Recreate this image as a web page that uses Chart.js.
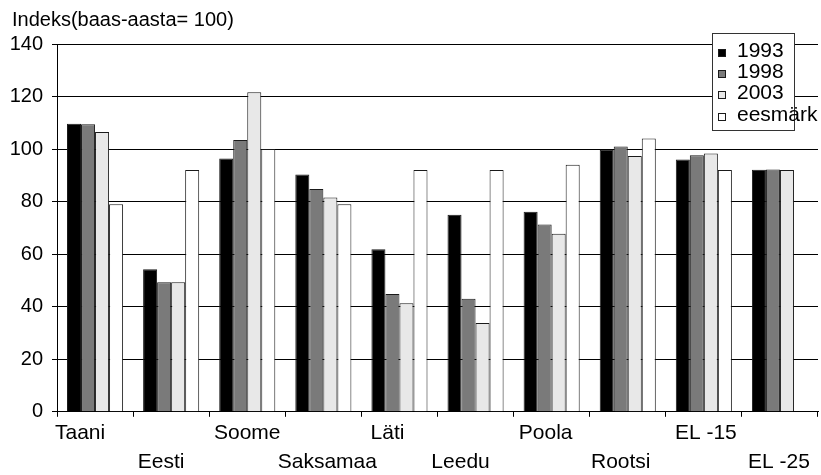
<!DOCTYPE html>
<html>
<head>
<meta charset="utf-8">
<script src="https://cdn.jsdelivr.net/npm/chart.js@4/dist/chart.umd.min.js"></script>
<style>
  html, body { margin: 0; padding: 0; background: #fff; }
  #wrap { width: 821px; height: 475px; }
</style>
</head>
<body>
<div id="wrap"><canvas id="chart" width="821" height="475"></canvas></div>
<script>
// Index values per country (base year = 100)
const categories = ['Taani', 'Eesti', 'Soome', 'Saksamaa', 'Läti', 'Leedu', 'Poola', 'Rootsi', 'EL -15', 'EL -25'];
const seriesNames = ['1993', '1998', '2003', 'eesmärk'];
const values1993 = [109.6, 54.3, 96.4, 90.3, 61.9, 75.0, 76.1, 99.7, 96.0, 92.1];
const values1998 = [109.5, 49.3, 103.5, 84.8, 44.8, 43.0, 71.3, 101.0, 97.7, 92.2];
const values2003 = [106.5, 49.3, 121.6, 81.6, 41.3, 33.8, 67.8, 97.4, 98.3, 92.0];
const valuesTarget = [79, 92, 100, 79, 92, 92, 94, 104, 92, null];
const yTickValues = [0, 20, 40, 60, 80, 100, 120, 140];
const yTitle = 'Indeks(baas-aasta= 100)';

const fills = ['#000000', '#7a7a7a', '#e8e8e8', '#ffffff'];
const FONT = '"Liberation Sans", Arial, Helvetica, sans-serif';
// horizontal nudge of each category label relative to its category centre (px)
const labelNudge = [-15, -10, 0, 4, -12, -15, -6, -7, 2, -1];

const seriesValues = [values1993, values1998, values2003, valuesTarget];

const datasets = seriesValues.map((vals, i) => ({
  label: seriesNames[i],
  data: vals,
  backgroundColor: fills[i],
  borderColor: '#1a1a1a',
  borderWidth: 1,
  borderSkipped: 'bottom',
  categoryPercentage: 0.737,
  barPercentage: 1.0
}));

// Axis title, staggered category labels and the boxed legend
const decorations = {
  id: 'decorations',
  afterDraw(chart) {
    const ctx = chart.ctx;
    ctx.save();
    ctx.fillStyle = '#000';
    ctx.font = '20px ' + FONT;
    ctx.textAlign = 'left';
    ctx.textBaseline = 'alphabetic';
    ctx.fillText(yTitle, 12, 26);

    // category labels on two alternating rows under the axis
    const xs = chart.scales.x;
    ctx.font = '21px ' + FONT;
    ctx.textAlign = 'center';
    ctx.textBaseline = 'middle';
    categories.forEach((name, i) => {
      const px = xs.getPixelForTick(i) + labelNudge[i];
      const py = i % 2 === 0 ? 433 : 462;
      ctx.fillText(name, px, py);
    });

    const bx = 712, by = 33, bw = 82, bh = 97;
    ctx.fillStyle = '#fff';
    ctx.fillRect(bx, by, bw, bh);
    ctx.strokeStyle = '#333';
    ctx.lineWidth = 1;
    ctx.strokeRect(bx + 0.5, by + 0.5, bw, bh);

    const rowCenters = [53, 74, 95, 117];
    ctx.font = '21px ' + FONT;
    ctx.textAlign = 'left';
    ctx.textBaseline = 'alphabetic';
    chart.data.datasets.forEach((ds, i) => {
      const cy = rowCenters[i];
      ctx.fillStyle = ds.backgroundColor;
      ctx.fillRect(718, cy - 4, 8, 8);
      ctx.strokeStyle = '#1a1a1a';
      ctx.strokeRect(718.5, cy - 3.5, 7, 7);
      ctx.fillStyle = '#000';
      ctx.fillText(ds.label, 737, cy + 4);
    });
    ctx.restore();
  }
};

new Chart(document.getElementById('chart'), {
  type: 'bar',
  data: { labels: categories, datasets },
  plugins: [decorations],
  options: {
    responsive: false,
    animation: false,
    devicePixelRatio: 1,
    layout: { padding: { top: 44, right: 3, left: 0, bottom: 0 } },
    plugins: {
      legend: { display: false },
      tooltip: { enabled: false },
      title: { display: false }
    },
    scales: {
      x: {
        offset: true,
        grid: {
          offset: true,
          drawOnChartArea: false,
          drawTicks: true,
          tickLength: 5,
          color: '#000',
          lineWidth: 1
        },
        border: { display: true, color: '#000', width: 1 },
        ticks: { display: false, autoSkip: false },
        afterFit: (scale) => { scale.height = 63.2; }
      },
      y: {
        min: 0,
        max: 140,
        afterBuildTicks: (scale) => { scale.ticks = yTickValues.map(v => ({ value: v })); },
        grid: {
          color: '#000',
          lineWidth: 1,
          drawTicks: true,
          tickLength: 5
        },
        border: { display: true, color: '#000', width: 1 },
        ticks: {
          padding: 9,
          color: '#000',
          font: { family: FONT, size: 20 }
        },
        afterFit: (scale) => { scale.width = 57; }
      }
    }
  }
});
</script>
</body>
</html>
